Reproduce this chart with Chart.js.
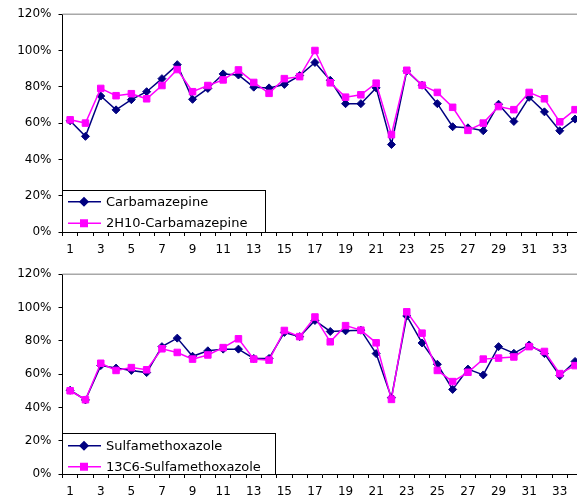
<!DOCTYPE html>
<html>
<head>
<meta charset="utf-8">
<script src="https://cdn.jsdelivr.net/npm/chart.js@4/dist/chart.umd.min.js"></script>
<style>
  html, body { margin: 0; padding: 0; background: #fff; overflow: hidden; width: 577px; height: 501px; }
  .panel { position: absolute; left: 0; width: 600px; }
  #p1 { top: 0; height: 260px; }
  #p2 { top: 260px; height: 241px; }
  canvas { display: block; }
</style>
</head>
<body>
<div class="panel" id="p1"><canvas id="c1" width="600" height="260"></canvas></div>
<div class="panel" id="p2"><canvas id="c2" width="600" height="241"></canvas></div>
<script>
// Sample numbers along the x axis
const samples = ['1','2','3','4','5','6','7','8','9','10','11','12','13','14','15','16','17',
                 '18','19','20','21','22','23','24','25','26','27','28','29','30','31','32','33','34'];

// Recoveries (%) per sample
const carbamazepine = [61.3, 52.7, 74.9, 67.3, 72.9, 77.3, 84.5, 92.2, 73.1, 79.1, 87.1, 86.5, 79.8, 79.4, 81.3, 86.2, 93.4,
                       83.6, 70.7, 70.7, 79.4, 48.2, 88.7, 80.9, 70.7, 58.0, 57.4, 55.8, 70.4, 60.9, 74.2, 66.2, 55.8, 62.2];
const carbamazepineD10 = [61.8, 60.0, 79.1, 75.1, 76.2, 73.4, 80.7, 89.5, 77.3, 80.7, 83.8, 89.3, 82.4, 76.4, 84.5, 85.6, 100.0,
                          82.2, 74.3, 75.6, 82.0, 53.6, 89.1, 80.9, 76.9, 68.7, 56.0, 60.0, 69.1, 67.4, 76.9, 73.4, 60.7, 67.4];
const sulfamethoxazole = [50.3, 44.5, 65.1, 63.6, 62.2, 60.9, 76.5, 81.6, 70.7, 74.0, 75.0, 75.0, 69.4, 69.4, 85.0, 82.5, 92.2,
                          85.6, 86.0, 86.4, 72.3, 45.8, 94.9, 78.7, 65.9, 50.8, 63.0, 59.5, 76.5, 72.5, 77.5, 72.3, 59.0, 67.6];
const sulfamethoxazoleC13 = [50.0, 44.6, 66.5, 62.2, 63.9, 62.6, 75.2, 73.0, 69.0, 71.5, 75.9, 81.2, 69.0, 68.4, 86.2, 82.5, 94.3,
                             79.4, 89.1, 86.4, 78.8, 44.8, 97.4, 84.6, 62.2, 55.5, 61.1, 69.0, 69.6, 70.3, 76.5, 73.6, 60.3, 65.1];

// Y axis range and step (%)
const yMin = 0, yMax = 120, yStep = 20;

const NAVY = '#000080';
const MAGENTA = '#ff00ff';
const TICK_FONT = { family: 'DejaVu Sans', size: 12 };
const LEGEND_FONT = '13px "DejaVu Sans"';

// Grey line along the top edge of the plot area
const topEdge = {
  id: 'topEdge',
  afterDatasetsDraw(chart) {
    const { ctx, chartArea: a } = chart;
    ctx.save();
    ctx.strokeStyle = '#a8a8a8';
    ctx.lineWidth = 1.5;
    ctx.beginPath();
    ctx.moveTo(a.left, a.top);
    ctx.lineTo(a.right, a.top);
    ctx.stroke();
    ctx.restore();
  }
};

// Framed legend sitting in the lower-left corner of the plot area
const boxLegend = {
  id: 'boxLegend',
  afterDraw(chart, args, o) {
    const { ctx, chartArea: a } = chart;
    const x = a.left - 0.5, y = a.bottom - o.height, w = o.width, h = o.height;
    ctx.save();
    ctx.fillStyle = '#fff';
    ctx.fillRect(x, y, w, h);
    ctx.strokeStyle = '#000';
    ctx.lineWidth = 1;
    ctx.strokeRect(Math.round(x) + 0.5, Math.round(y) + 0.5, Math.round(w) - 1, Math.round(h));
    chart.data.datasets.forEach((ds, i) => {
      const cy = y + o.rows[i];
      ctx.strokeStyle = ds.borderColor;
      ctx.lineWidth = ds.borderWidth;
      ctx.beginPath();
      ctx.moveTo(x + 6, cy);
      ctx.lineTo(x + 39, cy);
      ctx.stroke();
      ctx.fillStyle = ds.pointBackgroundColor;
      ctx.strokeStyle = ds.pointBorderColor;
      Chart.helpers.drawPoint(ctx, { pointStyle: ds.pointStyle, radius: ds.pointRadius, borderWidth: 1, rotation: 0 }, x + 22, cy);
      ctx.fillStyle = '#000';
      ctx.font = LEGEND_FONT;
      ctx.textBaseline = 'middle';
      ctx.textAlign = 'left';
      ctx.fillText(ds.label, x + 44, cy + 0.5);
    });
    ctx.restore();
  }
};

function series(label, values, color, style, radius, order) {
  return {
    label, data: values, order,
    borderColor: color, backgroundColor: color,
    borderWidth: 1.5, tension: 0,
    pointStyle: style, pointRadius: radius, pointHoverRadius: radius,
    pointBackgroundColor: color, pointBorderColor: color, pointBorderWidth: 1
  };
}

function makeChart(id, dsA, dsB, padTop, xHeight, legendBox) {
  return new Chart(document.getElementById(id), {
    type: 'line',
    data: { labels: samples, datasets: [dsA, dsB] },
    plugins: [topEdge, boxLegend],
    options: {
      responsive: false,
      animation: false,
      devicePixelRatio: 1,
      layout: { padding: { top: padTop, right: 17.3, left: 0, bottom: 0 } },
      plugins: {
        legend: { display: false },
        tooltip: { enabled: false },
        boxLegend: legendBox
      },
      scales: {
        x: {
          type: 'category',
          offset: true,
          afterFit(scale) { scale.height = xHeight; },
          grid: { offset: true, drawOnChartArea: false, drawTicks: true, tickLength: 4, color: '#000', lineWidth: 1 },
          border: { display: true, color: '#000', width: 1 },
          ticks: {
            autoSkip: false, maxRotation: 0, minRotation: 0, padding: 7,
            color: '#000', font: TICK_FONT,
            callback(value, index) { return index % 2 === 0 ? samples[index] : ''; }
          }
        },
        y: {
          min: yMin, max: yMax,
          afterFit(scale) { scale.width = 62.5; },
          grid: { drawOnChartArea: false, drawTicks: true, tickLength: 4, color: '#000', lineWidth: 1 },
          border: { display: true, color: '#000', width: 1 },
          ticks: {
            stepSize: yStep, padding: 7, color: '#000', font: TICK_FONT,
            callback(v) { return v + '%'; }
          }
        }
      }
    }
  });
}

makeChart('c1',
  series('Carbamazepine', carbamazepine, NAVY, 'rectRot', 4, 1),
  series('2H10-Carbamazepine', carbamazepineD10, MAGENTA, 'rect', 4.6, 0),
  12, 28, { width: 203.5, height: 42, rows: [11.7, 33.3] });

makeChart('c2',
  series('Sulfamethoxazole', sulfamethoxazole, NAVY, 'rectRot', 4, 1),
  series('13C6-Sulfamethoxazole', sulfamethoxazoleC13, MAGENTA, 'rect', 4.6, 0),
  7, 27, { width: 214, height: 40.7, rows: [12.4, 33.4] });
</script>
</body>
</html>
